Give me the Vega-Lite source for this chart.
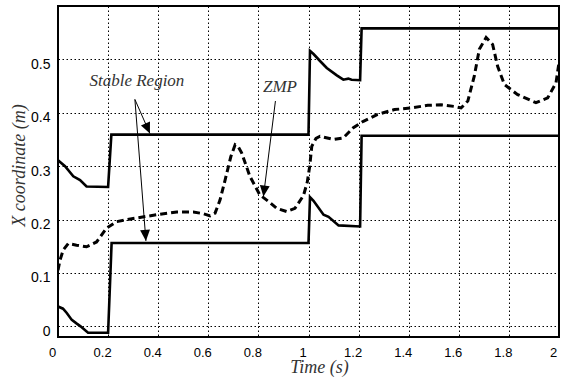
{
  "$schema": "https://vega.github.io/schema/vega-lite/v6.json",
  "width": 501,
  "height": 331,
  "autosize": {"type": "none"},
  "padding": {"left": 58, "top": 6, "right": 2, "bottom": 40},
  "background": "white",
  "config": {
    "view": {"stroke": "black", "strokeWidth": 2},
    "axis": {
      "domain": false,
      "ticks": false,
      "grid": true,
      "gridColor": "black",
      "gridDash": [1.5, 2.5],
      "gridOpacity": 1,
      "gridWidth": 1,
      "labelFont": "Liberation Sans",
      "labelColor": "black",
      "titleFont": "'Liberation Serif', serif",
      "titleFontStyle": "italic",
      "titleFontWeight": "normal",
      "titleColor": "#333333",
      "titleFontSize": 18
    }
  },
  "datasets": {
    "lines": [
      {"s": "upper", "t": 0, "v": 0.311}, {"s": "upper", "t": 0.028, "v": 0.300}, {"s": "upper", "t": 0.061, "v": 0.281}, {"s": "upper", "t": 0.088, "v": 0.274}, {"s": "upper", "t": 0.114, "v": 0.262}, {"s": "upper", "t": 0.2, "v": 0.261}, {"s": "upper", "t": 0.213, "v": 0.359}, {"s": "upper", "t": 1.0, "v": 0.359}, {"s": "upper", "t": 1.006, "v": 0.516}, {"s": "upper", "t": 1.02, "v": 0.510}, {"s": "upper", "t": 1.046, "v": 0.497}, {"s": "upper", "t": 1.073, "v": 0.484}, {"s": "upper", "t": 1.113, "v": 0.470}, {"s": "upper", "t": 1.139, "v": 0.462}, {"s": "upper", "t": 1.159, "v": 0.464}, {"s": "upper", "t": 1.172, "v": 0.462}, {"s": "upper", "t": 1.206, "v": 0.461}, {"s": "upper", "t": 1.212, "v": 0.558}, {"s": "upper", "t": 2.0, "v": 0.558},
      {"s": "lower", "t": 0, "v": 0.037}, {"s": "lower", "t": 0.02, "v": 0.033}, {"s": "lower", "t": 0.035, "v": 0.025}, {"s": "lower", "t": 0.055, "v": 0.012}, {"s": "lower", "t": 0.075, "v": 0.005}, {"s": "lower", "t": 0.09, "v": 0.0}, {"s": "lower", "t": 0.12, "v": -0.012}, {"s": "lower", "t": 0.2, "v": -0.012}, {"s": "lower", "t": 0.214, "v": 0.156}, {"s": "lower", "t": 1.0, "v": 0.156}, {"s": "lower", "t": 1.006, "v": 0.242}, {"s": "lower", "t": 1.02, "v": 0.235}, {"s": "lower", "t": 1.06, "v": 0.209}, {"s": "lower", "t": 1.08, "v": 0.205}, {"s": "lower", "t": 1.12, "v": 0.189}, {"s": "lower", "t": 1.206, "v": 0.187}, {"s": "lower", "t": 1.212, "v": 0.357}, {"s": "lower", "t": 2.0, "v": 0.357}
    ],
    "zmp": [
      {"t": 0, "v": 0.105}, {"t": 0.008, "v": 0.124}, {"t": 0.021, "v": 0.143}, {"t": 0.041, "v": 0.155}, {"t": 0.074, "v": 0.152}, {"t": 0.114, "v": 0.149}, {"t": 0.154, "v": 0.158}, {"t": 0.194, "v": 0.184}, {"t": 0.234, "v": 0.196}, {"t": 0.30, "v": 0.202}, {"t": 0.394, "v": 0.209}, {"t": 0.474, "v": 0.214}, {"t": 0.54, "v": 0.214}, {"t": 0.58, "v": 0.211}, {"t": 0.607, "v": 0.207}, {"t": 0.627, "v": 0.212}, {"t": 0.647, "v": 0.237}, {"t": 0.667, "v": 0.274}, {"t": 0.69, "v": 0.318}, {"t": 0.707, "v": 0.340}, {"t": 0.72, "v": 0.336}, {"t": 0.733, "v": 0.325}, {"t": 0.766, "v": 0.281}, {"t": 0.806, "v": 0.246}, {"t": 0.84, "v": 0.234}, {"t": 0.873, "v": 0.221}, {"t": 0.913, "v": 0.215}, {"t": 0.946, "v": 0.221}, {"t": 0.98, "v": 0.245}, {"t": 0.995, "v": 0.27}, {"t": 1.005, "v": 0.30}, {"t": 1.013, "v": 0.337}, {"t": 1.03, "v": 0.352}, {"t": 1.046, "v": 0.356}, {"t": 1.1, "v": 0.350}, {"t": 1.139, "v": 0.353}, {"t": 1.179, "v": 0.372}, {"t": 1.219, "v": 0.384}, {"t": 1.276, "v": 0.397}, {"t": 1.343, "v": 0.406}, {"t": 1.41, "v": 0.409}, {"t": 1.476, "v": 0.414}, {"t": 1.529, "v": 0.415}, {"t": 1.58, "v": 0.412}, {"t": 1.609, "v": 0.409}, {"t": 1.636, "v": 0.422}, {"t": 1.662, "v": 0.469}, {"t": 1.682, "v": 0.519}, {"t": 1.709, "v": 0.541}, {"t": 1.735, "v": 0.528}, {"t": 1.755, "v": 0.487}, {"t": 1.782, "v": 0.453}, {"t": 1.835, "v": 0.434}, {"t": 1.908, "v": 0.419}, {"t": 1.955, "v": 0.428}, {"t": 1.988, "v": 0.456}, {"t": 2.0, "v": 0.494}
    ],
    "arrows": [
      {"id": "sr1", "t": 0.307, "v": 0.425, "t2": 0.367, "v2": 0.361},
      {"id": "sr2", "t": 0.307, "v": 0.425, "t2": 0.351, "v2": 0.160},
      {"id": "zmp", "t": 0.868, "v": 0.422, "t2": 0.820, "v2": 0.243}
    ],
    "labels": [
      {"t": 0.315, "v": 0.459, "label": "Stable Region"},
      {"t": 0.886, "v": 0.449, "label": "ZMP"}
    ]
  },
  "layer": [
    {
      "data": {"name": "lines"},
      "mark": {"type": "line", "color": "black", "strokeWidth": 2.6, "clip": true},
      "encoding": {
        "x": {"field": "t", "type": "quantitative", "scale": {"domain": [0, 2], "nice": false, "zero": false},
              "axis": {"values": [0, 0.2, 0.4, 0.6, 0.8, 1, 1.2, 1.4, 1.6, 1.8, 2], "format": "~g", "labelFontSize": 13, "labelPadding": 9, "labelOffset": -6, "title": "Time (s)", "titleX": 261, "titleY": 35, "titleBaseline": "alphabetic", "titleAnchor": "middle", "labelFlush": false}},
        "y": {"field": "v", "type": "quantitative", "scale": {"domain": [-0.02, 0.6], "nice": false, "zero": false},
              "axis": {"values": [0, 0.1, 0.2, 0.3, 0.4, 0.5], "format": "~g", "labelFontSize": 14, "labelPadding": 8, "labelOffset": 5, "title": "X coordinate (m)", "titleX": -34, "titleY": 159, "titleBaseline": "alphabetic", "titleAngle": -90, "titleAlign": "center"}},
        "detail": {"field": "s"}
      }
    },
    {
      "data": {"name": "zmp"},
      "mark": {"type": "line", "color": "black", "strokeWidth": 3, "strokeDash": [7, 4], "clip": true},
      "encoding": {
        "x": {"field": "t", "type": "quantitative"},
        "y": {"field": "v", "type": "quantitative"}
      }
    },
    {
      "data": {"name": "arrows"},
      "mark": {"type": "rule", "color": "black", "strokeWidth": 1},
      "encoding": {
        "x": {"field": "t", "type": "quantitative"},
        "y": {"field": "v", "type": "quantitative"},
        "x2": {"field": "t2"},
        "y2": {"field": "v2"}
      }
    },
    {
      "data": {"name": "arrows"},
      "transform": [{"filter": "datum.id === 'sr1'"}],
      "mark": {"type": "point", "shape": "M0,0L-0.45,1L0.45,1Z", "filled": true, "color": "black", "opacity": 1, "size": 484, "angle": 156},
      "encoding": {
        "x": {"field": "t2", "type": "quantitative"},
        "y": {"field": "v2", "type": "quantitative"}
      }
    },
    {
      "data": {"name": "arrows"},
      "transform": [{"filter": "datum.id === 'sr2'"}],
      "mark": {"type": "point", "shape": "M0,0L-0.45,1L0.45,1Z", "filled": true, "color": "black", "opacity": 1, "size": 484, "angle": 175.5},
      "encoding": {
        "x": {"field": "t2", "type": "quantitative"},
        "y": {"field": "v2", "type": "quantitative"}
      }
    },
    {
      "data": {"name": "arrows"},
      "transform": [{"filter": "datum.id === 'zmp'"}],
      "mark": {"type": "point", "shape": "M0,0L-0.45,1L0.45,1Z", "filled": true, "color": "black", "opacity": 1, "size": 484, "angle": 187.3},
      "encoding": {
        "x": {"field": "t2", "type": "quantitative"},
        "y": {"field": "v2", "type": "quantitative"}
      }
    },
    {
      "data": {"name": "labels"},
      "mark": {"type": "text", "font": "'Liberation Serif', serif", "fontStyle": "italic", "fontSize": 17, "color": "#333333", "align": "center", "baseline": "middle"},
      "encoding": {
        "x": {"field": "t", "type": "quantitative"},
        "y": {"field": "v", "type": "quantitative"},
        "text": {"field": "label"}
      }
    }
  ]
}
